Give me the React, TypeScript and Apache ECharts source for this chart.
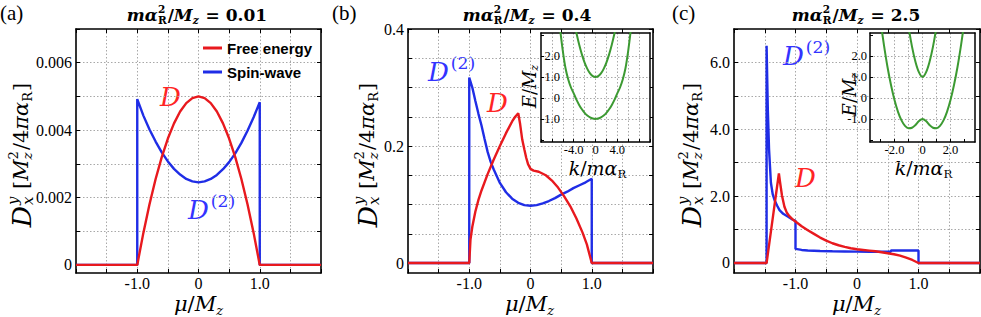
import React, { useEffect, useRef } from 'react';
import * as echarts from 'echarts';

// ---------------- data ----------------
const panelLetters = ['(a)', '(b)', '(c)'];
const titleValues = ['0.01', '0.4', '2.5'];
const legendNames = ['Free energy', 'Spin-wave'];

const muLabels = [-1, 0, 1];

const yTicksA = [0, 0.001, 0.002, 0.003, 0.004, 0.005, 0.006, 0.007];
const yLabelsA = [0, 0.002, 0.004, 0.006];
const yTicksB = [0, 0.05, 0.1, 0.15, 0.2, 0.25, 0.3, 0.35, 0.4];
const yLabelsB = [0, 0.2, 0.4];
const yTicksC = [0, 1, 2, 3, 4, 5, 6, 7];
const yLabelsC = [0, 2, 4, 6];

const insetYTicks = [-2, -1, 0, 1, 2, 3];
const insetYLabels = [-1, 0, 1, 2];
const insetXLabelsB = [-4, 0, 4];
const insetXTicksC = [-3, -2, -1, 0, 1, 2, 3];
const insetXLabelsC = [-2, 0, 2];

const freeEnergyA: [number, number][] = [
  [-2, 0], [-1, 0], [-0.9, 0.00095], [-0.8, 0.0018], [-0.7, 0.00255], [-0.6, 0.0032],
  [-0.5, 0.00375], [-0.4, 0.0042], [-0.3, 0.00455], [-0.2, 0.0048], [-0.1, 0.00495],
  [0, 0.005], [0.1, 0.00495], [0.2, 0.0048], [0.3, 0.00455], [0.4, 0.0042], [0.5, 0.00375],
  [0.6, 0.0032], [0.7, 0.00255], [0.8, 0.0018], [0.9, 0.00095], [1, 0], [2, 0],
];
const spinWaveA: [number, number][] = [
  [-2, 0], [-1, 0], [-1, 0.00492], [-0.9, 0.00443], [-0.8, 0.00402], [-0.7, 0.00366],
  [-0.6, 0.00334], [-0.5, 0.00307], [-0.4, 0.00285], [-0.3, 0.00268], [-0.2, 0.00255],
  [-0.1, 0.00248], [0, 0.00245], [0.1, 0.00248], [0.2, 0.00255], [0.3, 0.00267],
  [0.4, 0.00284], [0.5, 0.00305], [0.6, 0.00331], [0.7, 0.00362], [0.8, 0.00398],
  [0.9, 0.00438], [1, 0.00483], [1, 0], [2, 0],
];
const freeEnergyB: [number, number][] = [
  [-2, 0], [-1, 0], [-0.98, 0.04], [-0.95, 0.062], [-0.9, 0.088], [-0.85, 0.108], [-0.8, 0.124],
  [-0.7, 0.152], [-0.6, 0.177], [-0.5, 0.2], [-0.4, 0.222], [-0.3, 0.242], [-0.25, 0.25],
  [-0.2, 0.256], [-0.17, 0.238], [-0.135, 0.211], [-0.1, 0.194], [-0.07, 0.18], [-0.04, 0.169],
  [0, 0.161], [0.05, 0.158], [0.135, 0.156], [0.25, 0.15], [0.35, 0.141], [0.45, 0.129],
  [0.55, 0.114], [0.65, 0.097], [0.75, 0.076], [0.85, 0.052], [0.92, 0.032], [1, 0], [2, 0],
];
const spinWaveB: [number, number][] = [
  [-2, 0], [-1, 0], [-1, 0.317], [-0.95, 0.3], [-0.9, 0.277], [-0.85, 0.255], [-0.8, 0.235],
  [-0.75, 0.212], [-0.7, 0.19], [-0.65, 0.173], [-0.6, 0.16], [-0.5, 0.137], [-0.4, 0.121],
  [-0.3, 0.11], [-0.2, 0.103], [-0.1, 0.099], [0, 0.098], [0.1, 0.099], [0.2, 0.102],
  [0.3, 0.106], [0.4, 0.111], [0.5, 0.117], [0.6, 0.122], [0.7, 0.128], [0.8, 0.133],
  [0.9, 0.138], [1, 0.144], [1, 0], [2, 0],
];
const freeEnergyC: [number, number][] = [
  [-2, 0], [-1.47, 0], [-1.4, 0.94], [-1.35, 1.61], [-1.3, 2.28], [-1.27, 2.68], [-1.25, 2.4],
  [-1.22, 2.02], [-1.18, 1.68], [-1.14, 1.5], [-1.1, 1.4], [-1.05, 1.31], [-1.0, 1.24],
  [-0.9, 1.1], [-0.8, 0.98], [-0.7, 0.87], [-0.6, 0.76], [-0.5, 0.67], [-0.4, 0.59],
  [-0.3, 0.53], [-0.2, 0.48], [-0.1, 0.44], [0, 0.41], [0.1, 0.39], [0.2, 0.37], [0.3, 0.35],
  [0.4, 0.32], [0.5, 0.29], [0.6, 0.26], [0.7, 0.22], [0.8, 0.16], [0.9, 0.09], [1, 0], [2, 0],
];
const spinWaveC: [number, number][] = [
  [-2, 0], [-1.47, 0], [-1.47, 6.5], [-1.45, 4.6], [-1.43, 3.4], [-1.4, 2.4], [-1.37, 2.05],
  [-1.34, 1.88], [-1.3, 1.72], [-1.26, 1.58], [-1.2, 1.47], [-1.12, 1.38], [-1.05, 1.3],
  [-1.0, 1.26], [-1.0, 0.42], [-0.9, 0.39], [-0.8, 0.375], [-0.6, 0.36], [-0.4, 0.35],
  [-0.2, 0.345], [0, 0.34], [0.2, 0.337], [0.4, 0.335], [0.55, 0.335], [0.55, 0.375],
  [1, 0.375], [1, 0], [2, 0],
];

const bandLowerB: [number, number][] = [
  [-7, 4.5], [-6.5, 3.3], [-6, 2.25], [-5.5, 1.42], [-5, 0.88], [-4.5, 0.5], [-4, 0.22],
  [-3.5, -0.08], [-3, -0.33], [-2.5, -0.54], [-2, -0.71], [-1.5, -0.84], [-1, -0.93],
  [-0.5, -0.98], [0, -1], [0.5, -0.98], [1, -0.93], [1.5, -0.84], [2, -0.71], [2.5, -0.54],
  [3, -0.33], [3.5, -0.08], [4, 0.22], [4.5, 0.5], [5, 0.88], [5.5, 1.42], [6, 2.25],
  [6.5, 3.3], [7, 4.5],
];
const bandUpperB: [number, number][] = [
  [-4, 3.7], [-3.5, 3.1], [-3, 2.55], [-2.5, 2.08], [-2, 1.69], [-1.5, 1.39], [-1, 1.17],
  [-0.5, 1.04], [0, 1], [0.5, 1.04], [1, 1.17], [1.5, 1.39], [2, 1.69], [2.5, 2.08],
  [3, 2.55], [3.5, 3.1], [4, 3.7],
];
const bandLowerC: [number, number][] = [
  [-3, 3.68], [-2.75, 2.51], [-2.5, 1.48], [-2.25, 0.62], [-2, -0.1], [-1.75, -0.66],
  [-1.5, -1.07], [-1.25, -1.33], [-1, -1.44], [-0.75, -1.42], [-0.5, -1.29], [-0.25, -1.1],
  [0, -1], [0.25, -1.1], [0.5, -1.29], [0.75, -1.42], [1, -1.44], [1.25, -1.33],
  [1.5, -1.07], [1.75, -0.66], [2, -0.1], [2.25, 0.62], [2.5, 1.48], [2.75, 2.51], [3, 3.68],
];
const bandUpperC: [number, number][] = [
  [-1.25, 4.5], [-1, 3.4], [-0.75, 2.45], [-0.5, 1.72], [-0.25, 1.22], [0, 1],
  [0.25, 1.22], [0.5, 1.72], [0.75, 2.45], [1, 3.4], [1.25, 4.5],
];

// ---------------- styling helpers ----------------
const RED = '#e8191e';
const BLUE = '#1f2de6';
const GREEN = '#3c9a32';
const SERIF = 'Liberation Serif';
const MATH = "'DejaVu Serif'";

type Tok = { t?: string; it?: boolean; k?: number; sup?: string; sub?: string; supIt?: boolean; subIt?: boolean; gap?: number };

let measureCtx: CanvasRenderingContext2D | null = null;
function textWidth(s: string, font: string): number {
  if (!measureCtx) measureCtx = document.createElement('canvas').getContext('2d');
  if (!measureCtx) return s.length * 10;
  measureCtx.font = font;
  return measureCtx.measureText(s).width;
}
function fnt(size: number, it?: boolean, bold?: boolean, fam = MATH) {
  return `${it ? 'italic ' : ''}${bold ? 'bold ' : ''}${size.toFixed(1)}px ${fam}`;
}
function mathGroup(tokens: Tok[], o: { x: number; y: number; size: number; color: string; bold?: boolean; rotation?: number; center?: boolean; fam?: string }) {
  const fam = o.fam ?? MATH;
  const kids: any[] = [];
  let cx = 0;
  const put = (s: string, x: number, y: number, size: number, it?: boolean) => {
    kids.push({
      type: 'text', x, y, silent: true,
      style: { text: s, font: fnt(size, it, o.bold, fam), fill: o.color, align: 'left', verticalAlign: 'middle', textAlign: 'left', textVerticalAlign: 'middle' },
    });
  };
  for (const tk of tokens) {
    cx += tk.gap ?? 0;
    if (tk.t !== undefined) {
      const s = o.size * (tk.k ?? 1);
      put(tk.t, cx, 0, s, tk.it);
      cx += textWidth(tk.t, fnt(s, tk.it, o.bold, fam));
    } else {
      const s = o.size * (tk.k ?? 0.62);
      let w = 0;
      if (tk.sup) { put(tk.sup, cx, -o.size * 0.36, s, tk.supIt); w = Math.max(w, textWidth(tk.sup, fnt(s, tk.supIt, o.bold, fam))); }
      if (tk.sub) { put(tk.sub, cx, o.size * 0.3, s, tk.subIt); w = Math.max(w, textWidth(tk.sub, fnt(s, tk.subIt, o.bold, fam))); }
      cx += w + 1;
    }
  }
  if (o.center) for (const k of kids) k.x -= cx / 2;
  return { type: 'group', x: o.x, y: o.y, rotation: o.rotation ?? 0, silent: true, z: 20, children: kids };
}

const near = (a: number, list: number[]) => list.some((l) => Math.abs(l - a) < 1e-9);
const fmtList = (list: number[], digits: number) => (v: number) =>
  near(v, list) ? (Math.abs(v) < 1e-12 ? '0' : v.toFixed(digits)) : '';

const gridLine = { show: true, showMinLine: false, showMaxLine: false, lineStyle: { color: '#a8a8a8', type: [1.5, 2], width: 1 } };
const boxLine = { show: true, onZero: false, lineStyle: { color: '#000', width: 1.6 } };
const tickIn = { show: true, inside: true, length: 4, lineStyle: { color: '#000', width: 1 } };
const tickLabel = { fontFamily: SERIF, fontSize: 16, color: '#000' };

function buildOption() {
  const mainLeft = [76, 408, 734];
  const grid: any[] = mainLeft.map((l, i) => ({ left: l, top: 29, width: i === 2 ? 246 : 245, height: 244, outerBoundsMode: 'none', containLabel: false }));
  grid.push({ left: 541, top: 33, width: 109, height: 109, z: 3, show: true, backgroundColor: '#fff', borderWidth: 0, outerBoundsMode: 'none' });
  grid.push({ left: 870, top: 33, width: 105, height: 109, z: 3, show: true, backgroundColor: '#fff', borderWidth: 0, outerBoundsMode: 'none' });

  const xAxis: any[] = [];
  const yAxis: any[] = [];
  const yDefs = [
    { min: -0.00024, max: 0.007, ticks: yTicksA, labels: yLabelsA, digits: 3 },
    { min: -0.017, max: 0.4, ticks: yTicksB, labels: yLabelsB, digits: 1 },
    { min: -0.3, max: 7, ticks: yTicksC, labels: yLabelsC, digits: 1 },
  ];
  for (let g = 0; g < 3; g++) {
    xAxis.push({
      type: 'value', gridIndex: g, min: -2, max: 2, interval: 0.5, position: 'bottom',
      axisLine: boxLine, axisTick: tickIn, splitLine: gridLine,
      axisLabel: { ...tickLabel, margin: 2, formatter: fmtList(muLabels, 1) },
    });
    xAxis.push({
      type: 'value', gridIndex: g, min: -2, max: 2, interval: 0.5, position: 'top',
      axisLine: boxLine, axisTick: tickIn, splitLine: { show: false }, axisLabel: { show: false },
    });
    const d = yDefs[g];
    yAxis.push({
      type: 'value', gridIndex: g, min: d.min, max: d.max, position: 'left',
      axisLine: boxLine, axisTick: { ...tickIn, customValues: d.ticks }, splitLine: gridLine,
      axisLabel: { ...tickLabel, margin: 4, customValues: d.labels, formatter: fmtList(d.labels, d.digits) },
    });
    yAxis.push({
      type: 'value', gridIndex: g, min: d.min, max: d.max, position: 'right',
      axisLine: boxLine, axisTick: { ...tickIn, customValues: d.ticks }, splitLine: { show: false }, axisLabel: { show: false },
    });
  }
  // insets
  const insetLabel = { fontFamily: SERIF, fontSize: 12.5, color: '#000' };
  const insetTick = { show: true, inside: true, length: 3, lineStyle: { color: '#000', width: 1 } };
  const insetLine = { show: true, onZero: false, lineStyle: { color: '#000', width: 1.5 } };
  const insetDefs = [
    { g: 3, xmin: -10, xmax: 10, xTicks: null as number[] | null, xLabels: insetXLabelsB, yMargin: -19 },
    { g: 4, xmin: -3.75, xmax: 3.75, xTicks: insetXTicksC, xLabels: insetXLabelsC, yMargin: 3 },
  ];
  for (const d of insetDefs) {
    xAxis.push({
      type: 'value', gridIndex: d.g, min: d.xmin, max: d.xmax, position: 'bottom', z: 4,
      ...(d.xTicks ? {} : { interval: 2 }),
      axisLine: insetLine,
      axisTick: d.xTicks ? { ...insetTick, customValues: d.xTicks } : insetTick,
      splitLine: gridLine,
      axisLabel: { ...insetLabel, margin: 1, ...(d.xTicks ? { customValues: d.xLabels } : {}), formatter: fmtList(d.xLabels, 1) },
    });
    xAxis.push({
      type: 'value', gridIndex: d.g, min: d.xmin, max: d.xmax, position: 'top', z: 4,
      axisLine: insetLine, axisTick: { show: false }, splitLine: { show: false }, axisLabel: { show: false },
    });
    yAxis.push({
      type: 'value', gridIndex: d.g, min: -2.1, max: 3.1, position: 'left', z: 4,
      axisLine: insetLine, axisTick: { ...insetTick, customValues: insetYTicks }, splitLine: gridLine,
      axisLabel: { ...insetLabel, margin: d.yMargin, customValues: insetYLabels, formatter: fmtList(insetYLabels, 1) },
    });
    yAxis.push({
      type: 'value', gridIndex: d.g, min: -2.1, max: 3.1, position: 'right', z: 4,
      axisLine: insetLine, axisTick: { show: false }, splitLine: { show: false }, axisLabel: { show: false },
    });
  }

  const line = (name: string, data: [number, number][], color: string, ai: number, w = 2.4, z = 2, smooth: any = false) => ({
    type: 'line', name, data, xAxisIndex: ai, yAxisIndex: ai, symbol: 'none', showSymbol: false, smooth,
    lineStyle: { color, width: w }, itemStyle: { color }, z, clip: true, silent: true, emphasis: { disabled: true },
  });
  const series = [
    line(legendNames[1], spinWaveA, BLUE, 0),
    line(legendNames[0], freeEnergyA, RED, 0),
    line(legendNames[1], spinWaveB, BLUE, 2),
    line(legendNames[0], freeEnergyB, RED, 2),
    line(legendNames[1], spinWaveC, BLUE, 4),
    line(legendNames[0], freeEnergyC, RED, 4),
    line('bandB1', bandLowerB, GREEN, 6, 2, 5, 0.3),
    line('bandB2', bandUpperB, GREEN, 6, 2, 5, 0.3),
    line('bandC1', bandLowerC, GREEN, 8, 2, 5, 0.3),
    line('bandC2', bandUpperC, GREEN, 8, 2, 5, 0.3),
  ];

  // ------- text decorations -------
  const elements: any[] = [];
  const letterX = [0, 332, 672];
  panelLetters.forEach((t, i) => elements.push({
    type: 'text', x: letterX[i], y: 13, silent: true, z: 20,
    style: { text: t, font: `21px '${SERIF}'`, fill: '#000', align: 'left', verticalAlign: 'middle', textAlign: 'left', textVerticalAlign: 'middle' },
  }));
  const titleX = [197, 527, 856];
  titleValues.forEach((v, i) => elements.push(mathGroup([
    { t: 'm', it: true }, { t: 'α', it: true }, { sup: '2', sub: 'R' },
    { t: '/' }, { t: 'M', it: true }, { sub: 'z', subIt: true }, { t: ' = ' + v },
  ], { x: titleX[i], y: 15, size: 17, color: '#000', bold: true, center: true })));
  const ylabX = [21, 367, 691];
  ylabX.forEach((x) => elements.push(mathGroup([
    { t: 'D', it: true, k: 1.2 }, { sup: 'y', sub: 'x', supIt: true, subIt: true, k: 0.68, gap: 1 },
    { t: ' [', k: 0.95 }, { t: 'M', it: true, k: 0.95 }, { sup: '2', sub: 'z', subIt: true, k: 0.6 },
    { t: '/4', k: 0.95 }, { t: 'πα', it: true, k: 0.95 }, { sub: 'R', k: 0.6 }, { t: ']', k: 0.95 },
  ], { x, y: 155, size: 22, color: '#000', rotation: Math.PI / 2, center: true })));
  const xlabX = [199, 530, 857];
  xlabX.forEach((x) => elements.push(mathGroup([
    { t: 'μ', it: true }, { t: '/' }, { t: 'M', it: true }, { sub: 'z', subIt: true },
  ], { x, y: 304, size: 21, color: '#000', center: true })));
  const insetE = [[529, 86], [849, 94]];
  insetE.forEach(([x, y]) => elements.push(mathGroup([
    { t: 'E', it: true }, { t: '/' }, { t: 'M', it: true }, { sub: 'z', subIt: true },
  ], { x, y, size: 18, color: '#000', rotation: Math.PI / 2, center: true })));
  const insetK = [[598, 168], [924, 168]];
  insetK.forEach(([x, y]) => elements.push(mathGroup([
    { t: 'k', it: true }, { t: '/' }, { t: 'm', it: true }, { t: 'α', it: true }, { sub: 'R' },
  ], { x, y, size: 19, color: '#000', center: true })));
  const dTok: Tok[] = [{ t: 'D', it: true }];
  const d2Tok: Tok[] = [{ t: 'D', it: true }, { sup: '(2)', k: 0.66, gap: 2 }];
  elements.push(mathGroup(dTok, { x: 160, y: 97, size: 26, color: '#ff2424' }));
  elements.push(mathGroup(d2Tok, { x: 188, y: 210, size: 26, color: '#3333ff' }));
  elements.push(mathGroup(d2Tok, { x: 428, y: 72, size: 26, color: '#3333ff' }));
  elements.push(mathGroup(dTok, { x: 487, y: 103, size: 26, color: '#ff2424' }));
  elements.push(mathGroup(d2Tok, { x: 783, y: 56, size: 26, color: '#3333ff' }));
  elements.push(mathGroup(dTok, { x: 795, y: 178, size: 26, color: '#ff2424' }));

  return {
    animation: false,
    backgroundColor: '#fff',
    grid, xAxis, yAxis, series,
    legend: {
      data: legendNames, orient: 'vertical', left: 198, top: 34, itemWidth: 19, itemHeight: 3, icon: 'rect',
      itemGap: 6, selectedMode: false, z: 10,
      textStyle: { fontFamily: 'Liberation Sans', fontSize: 15, fontWeight: 'bold', color: '#000', lineHeight: 18 },
    },
    graphic: { elements },
  };
}

export default function App() {
  const ref = useRef<HTMLDivElement>(null);
  useEffect(() => {
    document.body.style.margin = '0';
    const chart = echarts.init(ref.current!, null, { renderer: 'svg', width: 981, height: 317 });
    chart.setOption(buildOption() as any);
    return () => chart.dispose();
  }, []);
  return <div ref={ref} style={{ width: 981, height: 317, position: 'absolute', left: 0, top: 0, background: '#fff' }} />;
}
